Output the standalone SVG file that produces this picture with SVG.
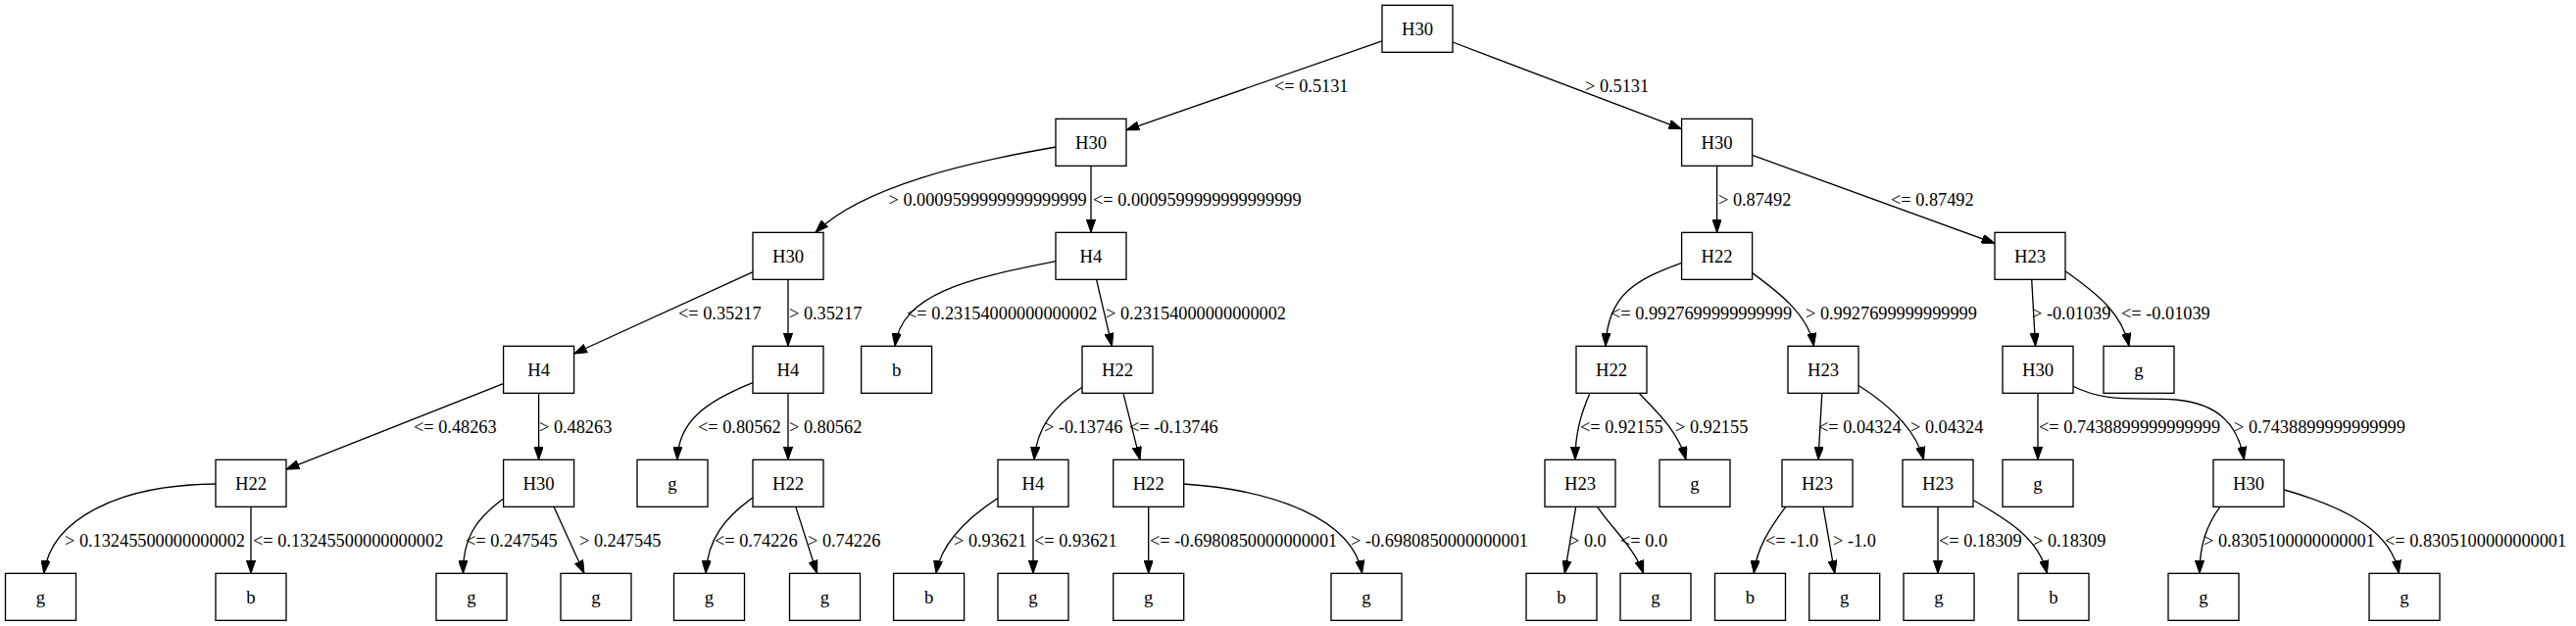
<svg xmlns="http://www.w3.org/2000/svg" width="2628" height="639" viewBox="0 0 2628 639">
<style>
.n rect{fill:#fff;stroke:#000;stroke-width:1.33}
.n text{font-family:"Liberation Serif","Times New Roman",serif;font-size:18.67px;text-anchor:middle;fill:#000}
.e path{fill:none;stroke:#000;stroke-width:1.33;marker-end:url(#ah)}
.e text{font-family:"Liberation Serif","Times New Roman",serif;font-size:18.3px;fill:#000}
</style>
<defs>
<marker id="ah" markerUnits="userSpaceOnUse" viewBox="0 0 13.33 9.33" refX="13.33" refY="4.67" markerWidth="13.33" markerHeight="9.33" orient="auto">
<path d="M0,0 L13.33,4.67 L0,9.33 z" fill="#000" stroke="#000" stroke-width="1"/>
</marker>
</defs>
<rect x="0" y="0" width="2628" height="639" fill="#fff"/>
<g id="edges" class="e">
<path d="M1410,41.9 L1149,132.8"/>
<path d="M1482,43 L1715.6,131.7"/>
<path d="M1077.5,150 C990,165 880,190 832,237.3"/>
<path d="M1113,169.33 L1113,237.33"/>
<path d="M1751.6,169.33 L1751.6,237.33"/>
<path d="M1787.6,158.4 L2035,248.3"/>
<path d="M768,277.7 L585.6,361"/>
<path d="M804,285.33 L804,353.33"/>
<path d="M1077,266.7 C985,285 920,300 913,353.3"/>
<path d="M1118.6,285.33 L1134.4,353.33"/>
<path d="M1715.6,268.3 C1670,285 1640,300 1638,353.3"/>
<path d="M1787.2,278.3 C1810,295 1845,320 1850.4,353.3"/>
<path d="M2072.7,285.33 L2076.5,353.33"/>
<path d="M2107,276.7 C2140,300 2165,320 2172,353.3"/>
<path d="M513.6,391.6 L292,479.1"/>
<path d="M549.6,401.33 L549.6,469.33"/>
<path d="M768,390.7 C720,410 692,430 691,469.3"/>
<path d="M804,401.33 L804,469.33"/>
<path d="M1104.3,395 C1075,415 1058,435 1055,469.3"/>
<path d="M1146,401.33 L1163,469.33"/>
<path d="M1622,401.33 C1614,420 1607,440 1607,469.3"/>
<path d="M1672,401.33 C1690,420 1712,440 1720,469.3"/>
<path d="M1858.8,401.33 L1855,469.33"/>
<path d="M1895.8,393.3 C1930,415 1955,440 1962.5,469.3"/>
<path d="M2079,401.33 L2079,469.33"/>
<path d="M2114.3,394 C2150,412 2180,405 2220,408 C2262,412 2283,432 2289.4,469.3"/>
<path d="M219.8,494 C120,495 52,530 44.8,585.3"/>
<path d="M256,517.33 L256,585.33"/>
<path d="M513.6,509 C485,530 472,550 472.5,585.3"/>
<path d="M565,517.33 L596,585.33"/>
<path d="M768,508 C740,528 722,550 720,585.3"/>
<path d="M811.8,517.33 L833.5,585.33"/>
<path d="M1018.2,508.3 C985,530 960,555 955,585.3"/>
<path d="M1054,517.33 L1054,585.33"/>
<path d="M1171.7,517.33 L1171.7,585.33"/>
<path d="M1207.6,494 C1300,500 1380,530 1389.6,585.3"/>
<path d="M1607.7,517.33 L1596.3,585.33"/>
<path d="M1629.6,517.33 C1645,540 1668,560 1676.6,585.3"/>
<path d="M1821.6,517.33 C1805,540 1792,560 1789.3,585.3"/>
<path d="M1860,517.33 L1871.8,585.33"/>
<path d="M1977,517.33 L1977,585.33"/>
<path d="M2013.6,510.7 C2050,532 2080,550 2088.4,585.3"/>
<path d="M2264.8,517.33 C2252,535 2244,555 2244,585.3"/>
<path d="M2330.5,500 C2400,520 2440,545 2447.3,585.3"/>
<text x="1300" y="93.5">&lt;= 0.5131</text>
<text x="1617" y="93.5">&gt; 0.5131</text>
<text x="906.5" y="209.5">&gt; 0.0009599999999999999</text>
<text x="1115" y="209.5">&lt;= 0.0009599999999999999</text>
<text x="1753" y="209.5">&gt; 0.87492</text>
<text x="1929" y="209.5">&lt;= 0.87492</text>
<text x="692" y="325.5">&lt;= 0.35217</text>
<text x="805" y="325.5">&gt; 0.35217</text>
<text x="925" y="325.5">&lt;= 0.23154000000000002</text>
<text x="1128" y="325.5">&gt; 0.23154000000000002</text>
<text x="1643" y="325.5">&lt;= 0.9927699999999999</text>
<text x="1842" y="325.5">&gt; 0.9927699999999999</text>
<text x="2073" y="325.5">&gt; -0.01039</text>
<text x="2164" y="325.5">&lt;= -0.01039</text>
<text x="422" y="441.5">&lt;= 0.48263</text>
<text x="550" y="441.5">&gt; 0.48263</text>
<text x="712" y="441.5">&lt;= 0.80562</text>
<text x="805" y="441.5">&gt; 0.80562</text>
<text x="1065" y="441.5">&gt; -0.13746</text>
<text x="1152" y="441.5">&lt;= -0.13746</text>
<text x="1612" y="441.5">&lt;= 0.92155</text>
<text x="1709" y="441.5">&gt; 0.92155</text>
<text x="1855" y="441.5">&lt;= 0.04324</text>
<text x="1949" y="441.5">&gt; 0.04324</text>
<text x="2080" y="441.5">&lt;= 0.7438899999999999</text>
<text x="2279" y="441.5">&gt; 0.7438899999999999</text>
<text x="66" y="557.5">&gt; 0.13245500000000002</text>
<text x="258" y="557.5">&lt;= 0.13245500000000002</text>
<text x="475" y="557.5">&lt;= 0.247545</text>
<text x="591" y="557.5">&gt; 0.247545</text>
<text x="729" y="557.5">&lt;= 0.74226</text>
<text x="824" y="557.5">&gt; 0.74226</text>
<text x="973" y="557.5">&gt; 0.93621</text>
<text x="1055" y="557.5">&lt;= 0.93621</text>
<text x="1173" y="557.5">&lt;= -0.6980850000000001</text>
<text x="1378" y="557.5">&gt; -0.6980850000000001</text>
<text x="1601" y="557.5">&gt; 0.0</text>
<text x="1653" y="557.5">&lt;= 0.0</text>
<text x="1801" y="557.5">&lt;= -1.0</text>
<text x="1870" y="557.5">&gt; -1.0</text>
<text x="1978" y="557.5">&lt;= 0.18309</text>
<text x="2074" y="557.5">&gt; 0.18309</text>
<text x="2248" y="557.5">&gt; 0.8305100000000001</text>
<text x="2433" y="557.5">&lt;= 0.8305100000000001</text>
</g>
<g id="n0" class="n"><rect x="1410" y="5.33" width="72" height="48"/><text x="1446" y="35.5">H30</text></g>
<g id="n1" class="n"><rect x="1077" y="121.33" width="72" height="48"/><text x="1113" y="151.5">H30</text></g>
<g id="n2" class="n"><rect x="1715.6" y="121.33" width="72" height="48"/><text x="1751.6" y="151.5">H30</text></g>
<g id="n3" class="n"><rect x="768" y="237.33" width="72" height="48"/><text x="804" y="267.5">H30</text></g>
<g id="n4" class="n"><rect x="1077" y="237.33" width="72" height="48"/><text x="1113" y="267.5">H4</text></g>
<g id="n5" class="n"><rect x="1715.6" y="237.33" width="72" height="48"/><text x="1751.6" y="267.5">H22</text></g>
<g id="n6" class="n"><rect x="2035" y="237.33" width="72" height="48"/><text x="2071" y="267.5">H23</text></g>
<g id="n7" class="n"><rect x="513.6" y="353.33" width="72" height="48"/><text x="549.6" y="383.5">H4</text></g>
<g id="n8" class="n"><rect x="768" y="353.33" width="72" height="48"/><text x="804" y="383.5">H4</text></g>
<g id="n9" class="n"><rect x="878.6" y="353.33" width="72" height="48"/><text x="914.6" y="383.5">b</text></g>
<g id="n10" class="n"><rect x="1104" y="353.33" width="72" height="48"/><text x="1140" y="383.5">H22</text></g>
<g id="n11" class="n"><rect x="1608" y="353.33" width="72" height="48"/><text x="1644" y="383.5">H22</text></g>
<g id="n12" class="n"><rect x="1824" y="353.33" width="72" height="48"/><text x="1860" y="383.5">H23</text></g>
<g id="n13" class="n"><rect x="2043" y="353.33" width="72" height="48"/><text x="2079" y="383.5">H30</text></g>
<g id="n14" class="n"><rect x="2146" y="353.33" width="72" height="48"/><text x="2182" y="383.5">g</text></g>
<g id="n15" class="n"><rect x="220" y="469.33" width="72" height="48"/><text x="256" y="499.5">H22</text></g>
<g id="n16" class="n"><rect x="513.6" y="469.33" width="72" height="48"/><text x="549.6" y="499.5">H30</text></g>
<g id="n17" class="n"><rect x="650" y="469.33" width="72" height="48"/><text x="686" y="499.5">g</text></g>
<g id="n18" class="n"><rect x="768" y="469.33" width="72" height="48"/><text x="804" y="499.5">H22</text></g>
<g id="n19" class="n"><rect x="1018" y="469.33" width="72" height="48"/><text x="1054" y="499.5">H4</text></g>
<g id="n20" class="n"><rect x="1135.7" y="469.33" width="72" height="48"/><text x="1171.7" y="499.5">H22</text></g>
<g id="n21" class="n"><rect x="1576" y="469.33" width="72" height="48"/><text x="1612" y="499.5">H23</text></g>
<g id="n22" class="n"><rect x="1693" y="469.33" width="72" height="48"/><text x="1729" y="499.5">g</text></g>
<g id="n23" class="n"><rect x="1818" y="469.33" width="72" height="48"/><text x="1854" y="499.5">H23</text></g>
<g id="n24" class="n"><rect x="1941" y="469.33" width="72" height="48"/><text x="1977" y="499.5">H23</text></g>
<g id="n25" class="n"><rect x="2043" y="469.33" width="72" height="48"/><text x="2079" y="499.5">g</text></g>
<g id="n26" class="n"><rect x="2258" y="469.33" width="72" height="48"/><text x="2294" y="499.5">H30</text></g>
<g id="n27" class="n"><rect x="5.5" y="585.33" width="72" height="48"/><text x="41.5" y="615.5">g</text></g>
<g id="n28" class="n"><rect x="220" y="585.33" width="72" height="48"/><text x="256" y="615.5">b</text></g>
<g id="n29" class="n"><rect x="445" y="585.33" width="72" height="48"/><text x="481" y="615.5">g</text></g>
<g id="n30" class="n"><rect x="572" y="585.33" width="72" height="48"/><text x="608" y="615.5">g</text></g>
<g id="n31" class="n"><rect x="687.5" y="585.33" width="72" height="48"/><text x="723.5" y="615.5">g</text></g>
<g id="n32" class="n"><rect x="805.5" y="585.33" width="72" height="48"/><text x="841.5" y="615.5">g</text></g>
<g id="n33" class="n"><rect x="911.6" y="585.33" width="72" height="48"/><text x="947.6" y="615.5">b</text></g>
<g id="n34" class="n"><rect x="1018" y="585.33" width="72" height="48"/><text x="1054" y="615.5">g</text></g>
<g id="n35" class="n"><rect x="1135.7" y="585.33" width="72" height="48"/><text x="1171.7" y="615.5">g</text></g>
<g id="n36" class="n"><rect x="1358" y="585.33" width="72" height="48"/><text x="1394" y="615.5">g</text></g>
<g id="n37" class="n"><rect x="1557" y="585.33" width="72" height="48"/><text x="1593" y="615.5">b</text></g>
<g id="n38" class="n"><rect x="1653" y="585.33" width="72" height="48"/><text x="1689" y="615.5">g</text></g>
<g id="n39" class="n"><rect x="1749.5" y="585.33" width="72" height="48"/><text x="1785.5" y="615.5">b</text></g>
<g id="n40" class="n"><rect x="1845.7" y="585.33" width="72" height="48"/><text x="1881.7" y="615.5">g</text></g>
<g id="n41" class="n"><rect x="1942" y="585.33" width="72" height="48"/><text x="1978" y="615.5">g</text></g>
<g id="n42" class="n"><rect x="2059" y="585.33" width="72" height="48"/><text x="2095" y="615.5">b</text></g>
<g id="n43" class="n"><rect x="2212" y="585.33" width="72" height="48"/><text x="2248" y="615.5">g</text></g>
<g id="n44" class="n"><rect x="2417" y="585.33" width="72" height="48"/><text x="2453" y="615.5">g</text></g>
</svg>
